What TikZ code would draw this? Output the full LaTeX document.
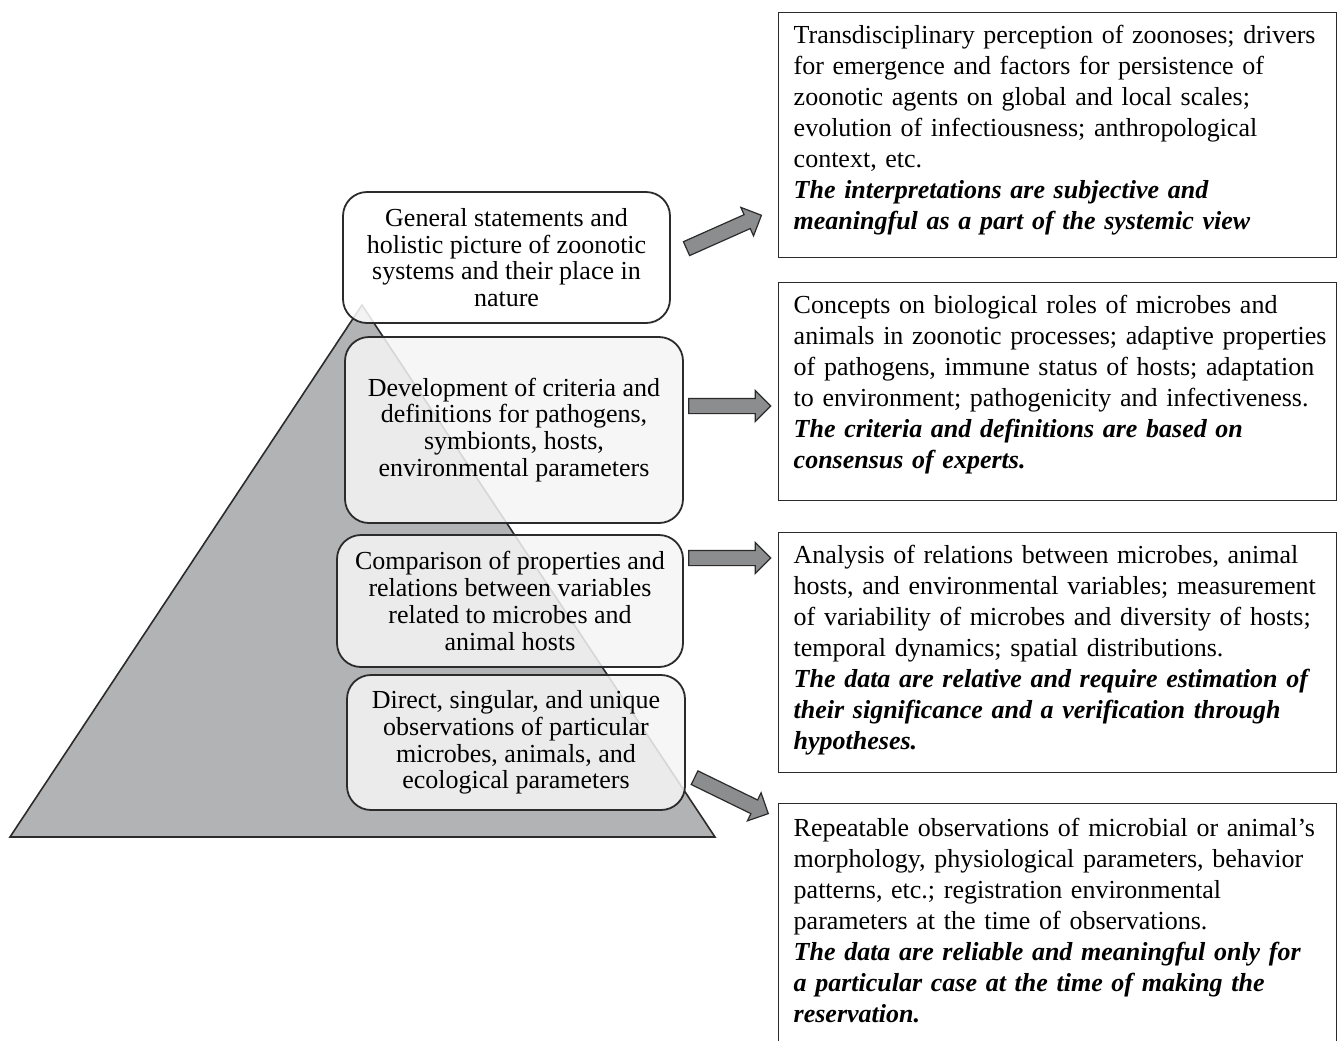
\documentclass[tikz,border=0pt]{standalone}
\usepackage{fontspec}
\setmainfont{Liberation Serif}
\usetikzlibrary{shapes.arrows}

\definecolor{pyrgray}{HTML}{B2B3B5}
\definecolor{arrgray}{HTML}{8C8D8F}
\definecolor{edge}{HTML}{2B2B2B}

\tikzset{
  level/.style={draw=edge, line width=0.9pt, rounded corners=12pt, align=center,
    font=\fontsize{13}{13.4}\selectfont, fill opacity=0.85, text opacity=1, inner sep=0pt},
  note/.style={draw=edge, line width=0.7pt, fill=white, anchor=north west, align=left,
    text width=264pt, inner xsep=7.5pt, inner ysep=0pt, font=\fontsize{13}{15.5}\selectfont},
  push/.style={single arrow, draw=edge, line width=0.6pt, fill=arrgray, inner xsep=0pt,
    inner ysep=3.5pt, minimum height=41pt, minimum width=0pt, single arrow head extend=4pt}
}
\newcommand{\stress}[1]{\textbf{\textit{#1}}}

\begin{document}
\begin{tikzpicture}[x=0.5pt, y=-0.5pt]
\useasboundingbox (0,0) rectangle (1339,1040) ;

\draw[fill=pyrgray, draw=edge, line width=0.8pt] (10,837) -- (362,305) -- (715,837) -- cycle ;

\node[level, fill=white, minimum width=163.5pt, minimum height=65.5pt] (holistic) at (506.5,257.5)
  {General statements and\\holistic picture of zoonotic\\systems and their place in\\nature} ;
\node[level, fill=black!4, minimum width=169pt, minimum height=93pt] (criteria) at (514,430)
  {Development of criteria and\\definitions for pathogens,\\symbionts, hosts,\\environmental parameters} ;
\node[level, fill=black!4, minimum width=173pt, minimum height=66pt] (compare) at (510,601)
  {Comparison of properties and\\relations between variables\\related to microbes and\\animal hosts} ;
\node[level, fill=black!4, minimum width=169pt, minimum height=67.5pt] (observe) at (516,742.5)
  {Direct, singular, and unique\\observations of particular\\microbes, animals, and\\ecological parameters} ;

\node[note, text height=15.5pt, text depth=107pt] (systemic) at (778,12)
  {Transdisciplinary perception of zoonoses; drivers\\
   for emergence and factors for persistence of\\
   zoonotic agents on global and local scales;\\
   evolution of infectiousness; anthropological\\
   context, etc.\\
   \stress{The interpretations are subjective and}\\
   \stress{meaningful as a part of the systemic view}} ;
\node[note, text height=15.5pt, text depth=93.5pt] (concepts) at (778,282)
  {Concepts on biological roles of microbes and\\
   \mbox{animals in zoonotic processes; adaptive properties}\\
   of pathogens, immune status of hosts; adaptation\\
   to environment; pathogenicity and infectiveness.\\
   \stress{The criteria and definitions are based on}\\
   \stress{consensus of experts.}} ;
\node[note, text height=15.5pt, text depth=104.5pt] (relative) at (778,532)
  {Analysis of relations between microbes, animal\\
   hosts, and environmental variables; measurement\\
   of variability of microbes and diversity of hosts;\\
   temporal dynamics; spatial distributions.\\
   \stress{The data are relative and require estimation of}\\
   \stress{their significance and a verification through}\\
   \stress{hypotheses.}} ;
\node[note, text height=16.5pt, text depth=103.5pt] (reliable) at (778,803)
  {Repeatable observations of microbial or animal’s\\
   morphology, physiological parameters, behavior\\
   patterns, etc.; registration environmental\\
   parameters at the time of observations.\\
   \stress{The data are reliable and meaningful only for}\\
   \stress{a particular case at the time of making the}\\
   \stress{reservation.}} ;

\node[push, rotate=24] (up) at (720.5,233.5) {} ;
\node[push] (toconcepts) at (726,406) {} ;
\node[push] (torelative) at (726,558) {} ;
\node[push, rotate=-26] (down) at (728,794) {} ;
\end{tikzpicture}
\end{document}
